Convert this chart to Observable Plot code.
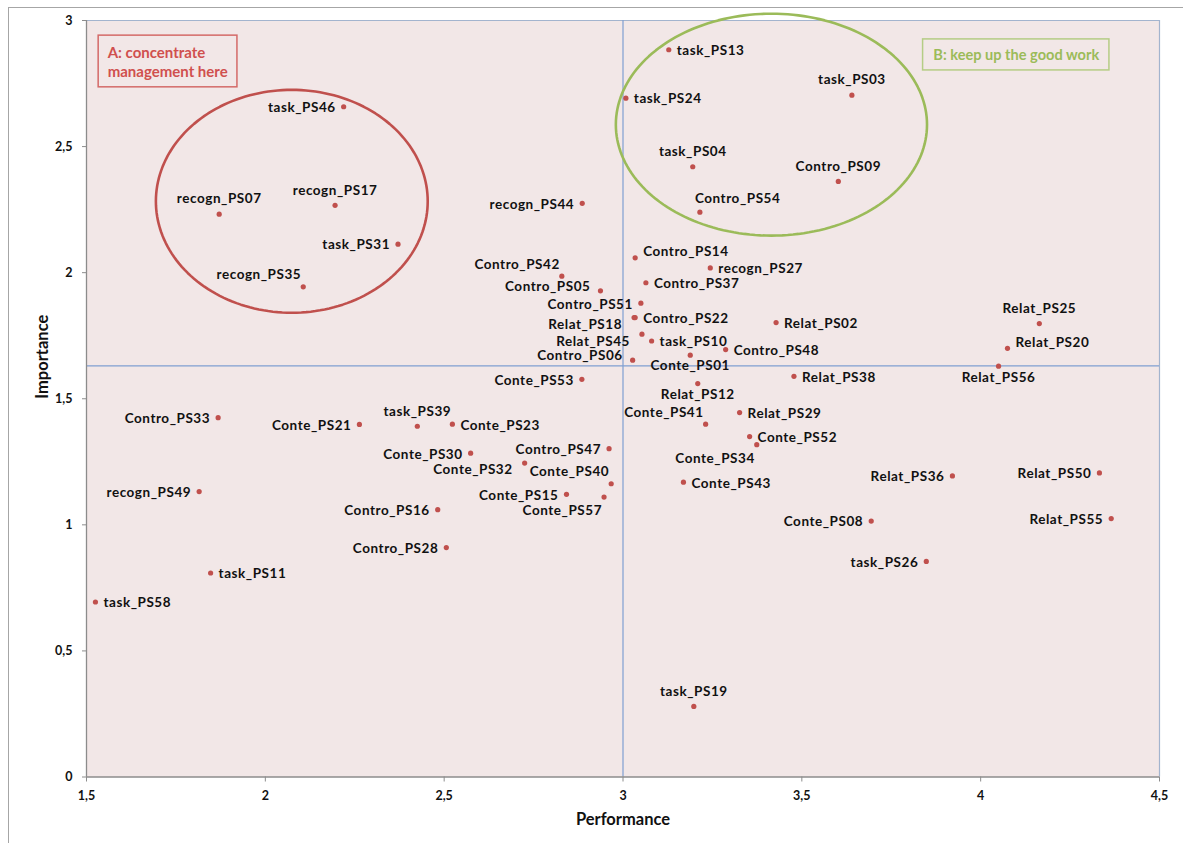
<!DOCTYPE html>
<html><head><meta charset="utf-8">
<script src="https://cdn.jsdelivr.net/npm/d3@7"></script>
<script src="https://cdn.jsdelivr.net/npm/@observablehq/plot@0.6"></script>
<style>
html,body{margin:0;padding:0;background:#fff;}
#wrap{position:relative;width:1183px;height:843px;overflow:hidden;}
#chart{position:absolute;left:0;top:0;}
#border{position:absolute;left:8px;top:7px;width:1300px;height:1000px;border-top:1px solid #a6a6a6;border-left:1px solid #a6a6a6;pointer-events:none;}
#chart svg g[aria-label="x-axis tick label"] text, #chart svg g[aria-label="y-axis tick label"] text{font-weight:bold;}
#chart svg g.pointlabel text{letter-spacing:0.55px;}
</style></head><body><div id="wrap"><div id="border"></div><div id="chart"></div></div>
<script>
// ---- data ----
const names = ["task_PS46","recogn_PS07","recogn_PS17","task_PS31","recogn_PS35","Contro_PS33","recogn_PS49","task_PS11","task_PS58","Conte_PS21",
"task_PS39","Conte_PS23","Conte_PS30","Conte_PS32","Contro_PS47","Conte_PS40","Conte_PS15","Conte_PS57","Contro_PS16","Contro_PS28",
"recogn_PS44","task_PS13","task_PS24","task_PS04","Contro_PS54","task_PS03","Contro_PS09","Contro_PS14","recogn_PS27","Contro_PS37",
"Contro_PS42","Contro_PS05","Contro_PS51","Relat_PS18","Contro_PS22","Relat_PS45","task_PS10","Contro_PS06","Conte_PS01","Contro_PS48",
"Relat_PS12","Conte_PS41","Relat_PS29","Conte_PS52","Conte_PS34","Conte_PS43","Conte_PS53","Relat_PS02","Relat_PS38","Relat_PS25",
"Relat_PS20","Relat_PS56","Relat_PS36","Relat_PS50","Relat_PS55","Conte_PS08","task_PS26","task_PS19"];
const performance = [2.219,1.871,2.195,2.371,2.106,1.868,1.815,1.847,1.525,2.263,
2.425,2.523,2.574,2.725,2.961,2.967,2.842,2.947,2.482,2.506,
2.886,3.128,3.008,3.195,3.215,3.640,3.602,3.034,3.244,3.064,
2.829,2.937,3.050,3.031,3.034,3.053,3.080,3.027,3.188,3.287,
3.209,3.231,3.326,3.354,3.374,3.169,2.885,3.428,3.478,4.164,
4.075,4.050,3.921,4.332,4.365,3.694,3.848,3.198];
const importance = [2.658,2.232,2.267,2.113,1.944,1.425,1.132,0.809,0.694,1.398,
1.391,1.399,1.284,1.245,1.302,1.163,1.121,1.110,1.060,0.910,
2.275,2.884,2.692,2.420,2.240,2.704,2.362,2.059,2.019,1.960,
1.986,1.928,1.879,1.822,1.822,1.756,1.729,1.653,1.673,1.695,
1.560,1.399,1.445,1.350,1.318,1.169,1.577,1.802,1.589,1.798,
1.700,1.629,1.194,1.206,1.025,1.015,0.855,0.280];
// where each data label sits relative to its point
const labelPos = ["l","t","t","l","tl","l","l","r","r","l",
"t","r","l","ld","l","tl","l","bl","l","l",
"l","r","r","t","tr","t","t","ru","r","r",
"tl","lu","l","ld","r","ld","r","lu","b","r",
"b","tl","r","r","bl","r","l","r","r","t",
"ru","b","l","l","l","l","l","t"];
const xTicks = [1.5, 2, 2.5, 3, 3.5, 4, 4.5];
const yTicks = [0, 0.5, 1, 1.5, 2, 2.5, 3];
const meanPerformance = 3.0;
const meanImportance = 1.63;
const xTitle = "Performance";
const yTitle = "Importance";
// annotation zones (data units)
const zoneLabels = ["A: concentrate\nmanagement here", "B: keep up the good work"];
const zoneBoxes = [{x1:1.534, x2:1.922, y1:2.735, y2:2.940}, {x1:3.839, x2:4.360, y1:2.802, y2:2.925}];
const zoneEllipses = [{cx:2.074, cy:2.283, rx:0.380, ry:0.442}, {cx:3.415, cy:2.587, rx:0.435, ry:0.440}];

// ---- build ----
const points = names.map((n, i) => ({name: n, x: performance[i], y: importance[i], pos: labelPos[i]}));
const placements = {
  l:  {textAnchor: "end",    dx: -8,  dy: 1},
  r:  {textAnchor: "start",  dx: 8,   dy: 1},
  t:  {textAnchor: "middle", dx: 0,   dy: -15},
  b:  {textAnchor: "middle", dx: 0,   dy: 11},
  tl: {textAnchor: "end",    dx: -2,  dy: -12},
  bl: {textAnchor: "end",    dx: -2,  dy: 14},
  tr: {textAnchor: "start",  dx: -5,  dy: -13},
  ru: {textAnchor: "start",  dx: 8,   dy: -6},
  lu: {textAnchor: "end",    dx: -10, dy: -4},
  ld: {textAnchor: "end",    dx: -12, dy: 7}
};
const ellipsePts = zoneEllipses.map((e, k) => d3.range(0, 360, 2).map(a => ({
  k, x: e.cx + e.rx * Math.cos(a * Math.PI / 180), y: e.cy + e.ry * Math.sin(a * Math.PI / 180)})));
const zoneColors = ["#c0504d", "#9bbb59"];
const boxColors = ["#d46a68", "#b5cd85"];
const textColors = ["#d0504e", "#9bbb59"];
const labelFont = "Lato, 'Open Sans', sans-serif";
const fmt = d => String(d).replace(".", ",");

const labelMarks = Object.entries(placements).map(([key, p]) =>
  Plot.text(points.filter(d => d.pos === key), {
    x: "x", y: "y", text: "name", textAnchor: p.textAnchor, dx: p.dx, dy: p.dy,
    fill: "#111", fontWeight: "bold", fontSize: 13.5, fontFamily: labelFont, className: "pointlabel"
  }));

const chart = Plot.plot({
  width: 1183, height: 843,
  marginLeft: 86, marginRight: 24, marginTop: 20, marginBottom: 66.5,
  x: {domain: [1.5, 4.5]},
  y: {domain: [0, 3]},
  style: {fontFamily: labelFont, background: "transparent", overflow: "visible"},
  marks: [
    Plot.frame({fill: "#f2e7e7", stroke: null}),
    Plot.ruleY([3], {stroke: "#a3b4ce", strokeWidth: 1.2}),
    Plot.ruleX([4.5], {stroke: "#a3b4ce", strokeWidth: 1.2}),
    Plot.ruleX([meanPerformance], {stroke: "#7f9fd2", strokeWidth: 1.2}),
    Plot.ruleY([meanImportance], {stroke: "#7f9fd2", strokeWidth: 1.2}),
    Plot.ruleY([0], {stroke: "#8c8c8c", strokeWidth: 1.3}),
    Plot.ruleX([1.5], {stroke: "#8c8c8c", strokeWidth: 1.3}),
    Plot.axisX({ticks: xTicks, tickFormat: fmt, tickSize: 5, tickPadding: 9, label: null,
      stroke: "#8c8c8c", fill: "#111", fontSize: 12.5, fontWeight: "bold"}),
    Plot.axisY({ticks: yTicks, tickFormat: fmt, tickSize: 4, tickPadding: 10, label: null,
      stroke: "#8c8c8c", fill: "#111", fontSize: 12.5, fontWeight: "bold"}),
    Plot.text([xTitle], {frameAnchor: "bottom", dy: 48, text: d => d, fontSize: 16.5, fontWeight: "bold", fill: "#111"}),
    Plot.text([yTitle], {frameAnchor: "left", dx: -44, rotate: -90, text: d => d, fontSize: 16.5, fontWeight: "bold", fill: "#111"}),
    ...ellipsePts.map((pts, k) => Plot.line(pts, {x: "x", y: "y", curve: "linear-closed",
      stroke: zoneColors[k], strokeWidth: 2.6, clip: false})),
    ...zoneBoxes.map((b, k) => Plot.rect([b], {x1: "x1", x2: "x2", y1: "y1", y2: "y2",
      fill: "none", stroke: boxColors[k], strokeWidth: 1.5})),
    Plot.text([zoneLabels[0]], {x: zoneBoxes[0].x1, y: (zoneBoxes[0].y1 + zoneBoxes[0].y2) / 2, text: d => d,
      textAnchor: "start", dx: 9, lineHeight: 1.3, fill: textColors[0], fontWeight: "bold", fontSize: 15}),
    Plot.text([zoneLabels[1]], {x: (zoneBoxes[1].x1 + zoneBoxes[1].x2) / 2, y: (zoneBoxes[1].y1 + zoneBoxes[1].y2) / 2, text: d => d,
      textAnchor: "middle", fill: textColors[1], fontWeight: "bold", fontSize: 14.6}),
    Plot.dot(points, {x: "x", y: "y", r: 2.6, fill: "#c0504d", stroke: null}),
    ...labelMarks
  ]
});
document.getElementById("chart").appendChild(chart);
</script>
</body></html>
